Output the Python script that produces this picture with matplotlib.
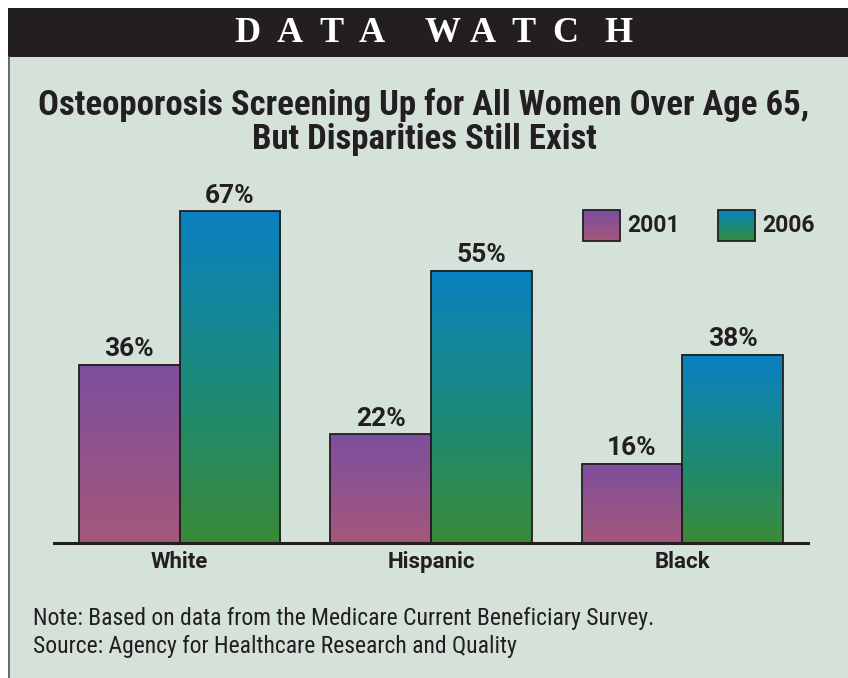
import numpy as np
import matplotlib
matplotlib.use("Agg")
import matplotlib.pyplot as plt
from matplotlib.patches import Rectangle
from matplotlib.colors import LinearSegmentedColormap

# data
groups = ['White', 'Hispanic', 'Black']
years = ['2001', '2006']
vals_2001 = [36, 22, 16]
vals_2006 = [67, 55, 38]

COND = 'Roboto Condensed'
SANS = 'Roboto'
BG = '#d5e2da'
INK = '#231f20'
grad_2001 = LinearSegmentedColormap.from_list('g01', ['#a5577b', '#7c4f9e'])
grad_2006 = LinearSegmentedColormap.from_list('g06', ['#3a8b38', '#1a8a7c', '#0a80c2'])

W, H = 848, 678
fig = plt.figure(figsize=(W / 100, H / 100), dpi=100, facecolor='white')

def fx(px):
    return px / W

def fy(py):
    return 1 - py / H

# panel background, header bar and left rule
fig.patches.append(Rectangle((fx(8), 0), 1, fy(57), transform=fig.transFigure,
                             facecolor=BG, edgecolor='none', zorder=-2))
fig.patches.append(Rectangle((fx(8), fy(57)), 1, fy(8) - fy(57), transform=fig.transFigure,
                             facecolor=INK, edgecolor='none', zorder=-2))
fig.add_artist(plt.Line2D([fx(9), fx(9)], [0, fy(57)], color='#555555', lw=1.2, zorder=-1))

# spaced-out header letters
header = 'DATAWATCH'
header_x = [247, 290, 331, 372, 443, 483, 523, 565, 618]
for ch, px in zip(header, header_x):
    fig.text(fx(px), fy(33), ch, color='white', ha='center', va='center',
             fontsize=26, fontweight='bold', family='Liberation Serif')

fig.text(fx(424), fy(105), 'Osteoporosis Screening Up for All Women Over Age 65,',
         ha='center', va='center', fontsize=25, fontweight='bold', family=COND, color=INK)
fig.text(fx(424), fy(140), 'But Disparities Still Exist',
         ha='center', va='center', fontsize=25, fontweight='bold', family=COND, color=INK)

# axes: baseline at y=543px, 4.95 px per percent
ymax = 75
ax = fig.add_axes([fx(54), fy(543), fx(808) - fx(54), ymax * 4.95 / H])
ax.set_facecolor('none')
for s in ['top', 'right', 'left']:
    ax.spines[s].set_visible(False)
ax.spines['bottom'].set_linewidth(2.2)
ax.spines['bottom'].set_color(INK)
ax.spines['bottom'].set_zorder(5)
ax.set_yticks([])
ax.set_xticks(range(len(groups)))
ax.set_xticklabels(groups, fontsize=16, fontweight='bold', family=SANS, color=INK)
ax.tick_params(axis='x', length=0, pad=6)

x = np.arange(len(groups))
bw = 0.4
grad = np.linspace(0, 1, 256).reshape(-1, 1)
for vals, off, cmap in [(vals_2001, -bw / 2, grad_2001), (vals_2006, bw / 2, grad_2006)]:
    bars = ax.bar(x + off, vals, bw, facecolor='none', edgecolor=INK, linewidth=1.3, zorder=3)
    for b, v in zip(bars, vals):
        x0 = b.get_x()
        ax.imshow(grad, cmap=cmap, origin='lower', aspect='auto',
                  extent=[x0, x0 + bw, 0, v], zorder=2)
        ax.text(x0 + bw / 2, v + 0.7, f'{v}%', ha='center', va='bottom',
                fontsize=19, fontweight='bold', family=SANS, color=INK)
ax.set_xlim(-0.5, 2.5)
ax.set_ylim(0, ymax)

# legend swatches
lax = fig.add_axes([0, 0, 1, 1])
lax.axis('off')
for (sx, lab, cmap) in [(583, years[0], grad_2001), (718, years[1], grad_2006)]:
    lax.imshow(grad, cmap=cmap, origin='lower', aspect='auto',
               extent=[sx, sx + 37, 241, 210], zorder=2)
    lax.add_patch(Rectangle((sx, 210), 37, 31, facecolor='none', edgecolor=INK, lw=1.3, zorder=3))
    lax.text(sx + 44, 226, lab, ha='left', va='center', fontsize=16.5, fontweight='bold',
             family=SANS, color=INK)
lax.set_xlim(0, W)
lax.set_ylim(H, 0)

fig.text(fx(33), fy(619), 'Note: Based on data from the Medicare Current Beneficiary Survey.',
         ha='left', va='center', fontsize=17, family=COND, color=INK)
fig.text(fx(33), fy(647), 'Source: Agency for Healthcare Research and Quality',
         ha='left', va='center', fontsize=17, family=COND, color=INK)

fig.savefig('out.png', dpi=100, facecolor=fig.get_facecolor())
